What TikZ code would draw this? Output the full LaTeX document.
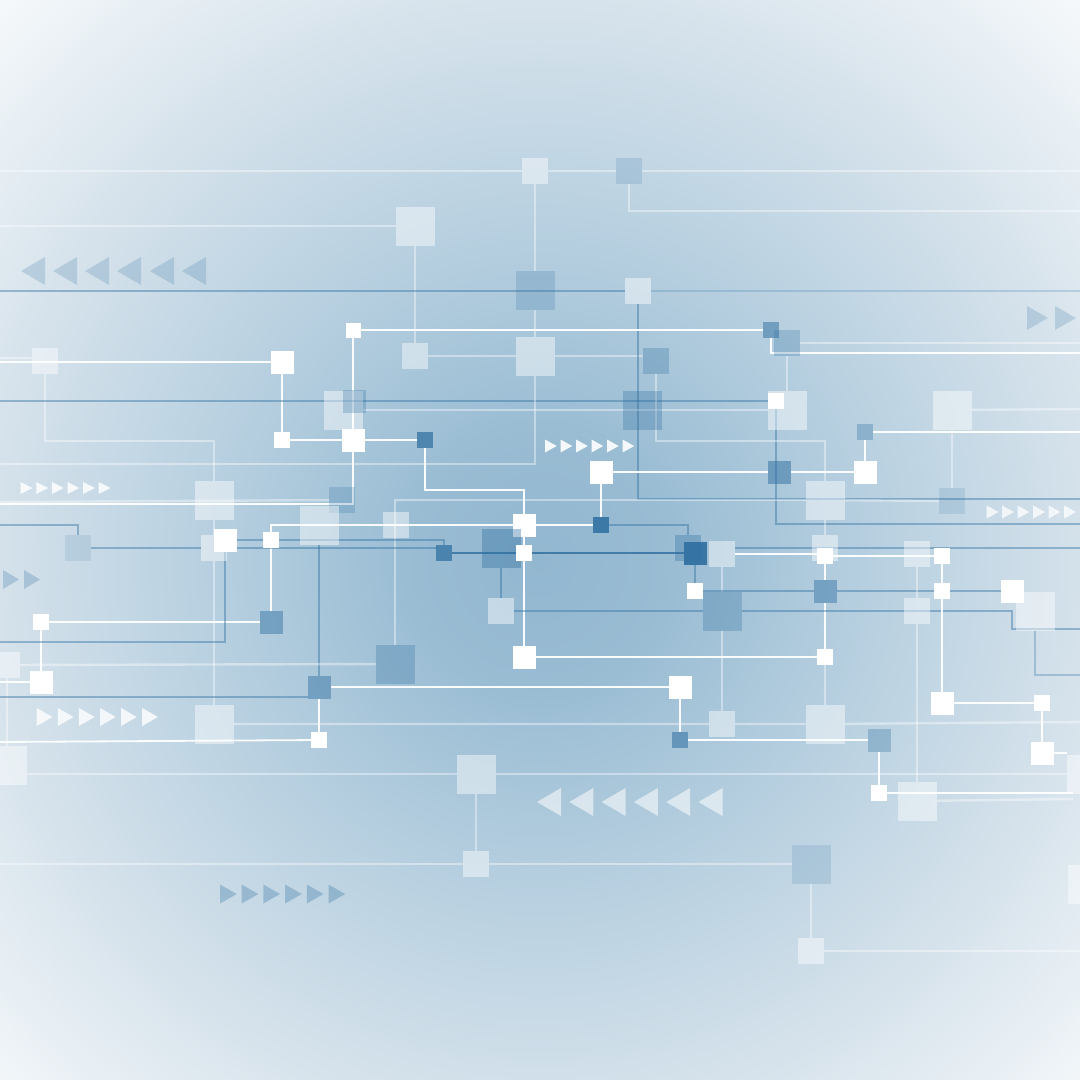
\documentclass[tikz,border=0pt]{standalone}
\usetikzlibrary{calc}
\definecolor{bcol}{RGB}{45,110,160}
\pgfdeclareradialshading{bgshade}{\pgfpoint{0bp}{0bp}}{rgb(0bp)=(0.573,0.718,0.816); rgb(4bp)=(0.600,0.737,0.827); rgb(9bp)=(0.690,0.796,0.867); rgb(17.5bp)=(0.835,0.886,0.922); rgb(25bp)=(0.965,0.976,0.984); rgb(50bp)=(0.965,0.976,0.984)}
\pgfdeclarelayer{bg}
\pgfdeclarelayer{lines}
\pgfsetlayers{bg,lines,main}
\begin{document}
\begin{tikzpicture}[x=1pt,y=-1pt,
  sq/.style={minimum size=#1pt, inner sep=0pt, outer sep=0pt, draw=none},
  ws/.style={sq=#1, fill=white},
  ls/.style={sq=#1, fill=white, fill opacity=.45},
  bs/.style 2 args={sq=#1, fill=bcol, fill opacity=#2},
  wl/.style={draw=white, line width=1.8pt, opacity=.95},
  fl/.style={draw=white, line width=2.4pt, opacity=.4},
  bl/.style={draw=bcol, line width=1.5pt, opacity=.42},
  bdl/.style={draw=bcol, line width=1.8pt, opacity=.8},
  wtri/.style={fill=white, opacity=#1},
  btri/.style={fill=bcol, opacity=#1}]
\useasboundingbox (0,0) rectangle (1080,1080);
\begin{pgfonlayer}{bg}
\begin{scope}
\clip (0,0) rectangle (1080,1080);
\shade[shading=bgshade] (-240,-220) rectangle (1320,1340);
\end{scope}
\end{pgfonlayer}

% ---------- squares ----------
\node[ls=26] (A1) at (535,171) {};
\node[bs={26}{.16}] (A2) at (629,171) {};
\node[ls=39] (A3) at (415,226) {};
\node[bs={39}{.2}] (A4) at (535,290) {};
\node[ls=26] (A5) at (638,291) {};
\node[ws=15] (A6) at (353,330) {};
\node[bs={16}{.5}] (A7) at (771,330) {};
\node[bs={26}{.25}] (A8) at (787,343) {};
\node[ls=26] (A9) at (45,361) {};
\node[ws=23] (A10) at (282,362) {};
\node[ls=26] (A11) at (415,356) {};
\node[ls=39] (A12) at (535,356) {};
\node[bs={26}{.28}] (A13) at (656,361) {};
\node[ls=39] (A14) at (343,410) {};
\node[bs={23}{.28}] (A15) at (354,401) {};
\node[bs={39}{.3}] (A16) at (642,410) {};
\node[ls=39] (A17) at (787,410) {};
\node[ws=16] (A18) at (776,401) {};
\node[ls=39] (A19) at (952,410) {};
\node[bs={16}{.32}] (A20) at (865,432) {};
\node[ws=16] (A21) at (282,440) {};
\node[ws=23] (A22) at (353,440) {};
\node[bs={16}{.7}] (A23) at (425,440) {};
\node[ws=23] (A24) at (601,472) {};
\node[bs={23}{.5}] (A25) at (779,472) {};
\node[ws=23] (A26) at (865,472) {};
\node[ls=39] (A27) at (214,500) {};
\node[bs={26}{.22}] (A28) at (342,500) {};
\node[ls=39] (A29) at (825,500) {};
\node[bs={26}{.14}] (A30) at (952,501) {};
\node[ls=39] (A31) at (319,525) {};
\node[ls=26] (A32) at (396,525) {};
\node[ws=23] (A33) at (524,525) {};
\node[bs={16}{.85}] (A34) at (601,525) {};
\node[bs={26}{.12}] (A35) at (78,548) {};
\node[ls=26] (A36) at (214,548) {};
\node[ws=23] (A37) at (225,540) {};
\node[ws=16] (A38) at (271,540) {};
\node[bs={16}{.72}] (A39) at (444,553) {};
\node[bs={39}{.38}] (A40) at (501,548) {};
\node[ws=16] (A41) at (524,553) {};
\node[bs={26}{.32}] (A42) at (688,548) {};
\node[bs={23}{.9}] (A43) at (695,553) {};
\node[ls=26] (A44) at (722,554) {};
\node[ls=26] (A45) at (825,548) {};
\node[ws=16] (A46) at (825,556) {};
\node[ls=26] (A47) at (917,554) {};
\node[ws=16] (A48) at (942,556) {};
\node[ls=26] (A49) at (501,611) {};
\node[bs={39}{.28}] (A50) at (722,611) {};
\node[bs={23}{.45}] (A51) at (825,591) {};
\node[ws=16] (A52) at (695,591) {};
\node[ws=16] (A53) at (942,591) {};
\node[ws=23] (A54) at (1012,591) {};
\node[ls=39] (A55) at (1035,611) {};
\node[ls=26] (A56) at (917,611) {};
\node[ws=16] (A57) at (41,622) {};
\node[bs={23}{.45}] (A58) at (271,622) {};
\node[ws=23] (A59) at (524,657) {};
\node[ws=16] (A60) at (825,657) {};
\node[ls=26] (A61) at (7,665) {};
\node[bs={39}{.28}] (A62) at (395,664) {};
\node[ws=23] (A63) at (41,682) {};
\node[bs={23}{.45}] (A64) at (319,687) {};
\node[ws=23] (A65) at (680,687) {};
\node[ws=23] (A66) at (942,703) {};
\node[ws=16] (A67) at (1042,703) {};
\node[ls=39] (A68) at (214,724) {};
\node[ls=26] (A69) at (722,724) {};
\node[ls=39] (A70) at (825,724) {};
\node[ws=16] (A71) at (319,740) {};
\node[bs={16}{.55}] (A72) at (680,740) {};
\node[bs={23}{.3}] (A73) at (879,740) {};
\node[ws=23] (A74) at (1042,753) {};
\node[ls=39] (A75) at (7,765) {};
\node[ls=39] (A76) at (476,774) {};
\node[ls=39] (A77) at (1086,774) {};
\node[ws=16] (A78) at (879,793) {};
\node[ls=39] (A79) at (917,801) {};
\node[ls=26] (A80) at (476,864) {};
\node[bs={39}{.15}] (A81) at (811,864) {};
\node[ls=26] (A82) at (811,951) {};
\node[ls=39] (A83) at (1087,884) {};

% ---------- free ends ----------
\coordinate (L171) at (0,171);   \coordinate (R171) at (1080,171);
\coordinate (R211) at (1080,211); \coordinate (L226) at (0,226);
\coordinate (L291) at (0,291);   \coordinate (R291) at (1080,291);
\coordinate (R499) at (1080,499); \coordinate (R353) at (1080,353);
\coordinate (R343) at (1080,343); \coordinate (L362) at (0,362);
\coordinate (L358) at (0,358);   \coordinate (K441) at (214,441);
\coordinate (L504) at (0,504);   \coordinate (L502) at (0,502);
\coordinate (L401) at (0,401);   \coordinate (L464) at (0,464);
\coordinate (R524) at (1080,524); \coordinate (K825) at (825,441);
\coordinate (R432) at (1080,432); \coordinate (R409) at (1080,409);
\coordinate (K490) at (524,490); \coordinate (L525) at (0,525);
\coordinate (L642) at (0,642);   \coordinate (K548a) at (237,548);
\coordinate (K548b) at (437,548); \coordinate (R548) at (1080,548);
\coordinate (K1012) at (1012,611); \coordinate (R629) at (1080,629);
\coordinate (R675) at (1080,675); \coordinate (L682) at (0,682);
\coordinate (L742) at (0,742);   \coordinate (L697) at (0,697);
\coordinate (R722) at (1080,722); \coordinate (R793) at (1073,793);
\coordinate (R799) at (1073,799); \coordinate (L866) at (0,864);
\coordinate (R951) at (1080,951);

% ---------- connectors ----------
\begin{pgfonlayer}{lines}
\draw[fl] (L171) -- (A1) -- (A2) -- (R171);
\draw[fl] (A2) |- (R211);
\draw[fl] (L226) -- (A3);
\draw[fl] (A3) -- (A11);
\draw[fl] (A1) -- (A4);
\draw[fl] (A4) -- (A12);
\draw[fl] (A11) -- (A12);
\draw[fl] (A12) -- (A12 -| A13.west);
\draw[bl] (L291) -- (A5);
\draw[bl, opacity=.22] (A5) -- (R291);
\draw[bl] (A5) |- (R499);
\draw[wl] (A6) -- (A7);
\draw[wl] (A7) |- (R353);
\draw[fl] (A8) -- (R343);
\draw[fl] (A8) -- (A17);
\draw[wl] (L362) -- (A10);
\draw[fl] (L358) -- (A9.west |- L358);
\draw[fl] (A9) |- (K441) -- (A27);
\draw[fl] (A27) -- (A36) -- (A68);
\draw[wl] (A10) -- (A21);
\draw[wl] (A21) -- (A22);
\draw[wl] (A6) -- (A22);
\draw[wl] (A22) |- (L504);
\draw[fl] (L502) -- (A28);
\draw[bl] (L401) -- (A18);
\draw[fl] (A14) -- (A17);
\draw[fl] (L464) -| (A12);
\draw[bl] (A18) |- (R524);
\draw[fl] (A13) |- (K825) -- (A29);
\draw[fl] (A29) -- (A45);
\draw[wl] (A46) -- (A51) -- (A60);
\draw[fl] (A60) -- (A70);
\draw[wl] (A24) -- (A25) -- (A26);
\draw[wl] (A20) -- (R432);
\draw[wl] (A20) -- (A26);
\draw[fl] (A19) -- (R409);
\draw[fl] (A19) -- (A30);
\draw[wl] (A22) -- (A23);
\draw[wl] (A23) |- (K490) -- (A33);
\draw[wl] (A33) -- (A41) -- (A59);
\draw[fl] (A62) |- (A29);
\draw[fl] (A29) -- (A30);
\draw[wl] (A58) |- (A33);
\draw[wl] (A33) -- (A34);
\draw[wl] (A34) -- (A24);
\draw[bl] (A34) -| (A42);
\draw[wl] (A58) -- (A57);
\draw[wl] (A57) -- (A63);
\draw[wl] (L682) -- (A63);
\draw[bl] (L525) -| (A35);
\draw[bl] (A35) -- (A36);
\draw[bl] (A37) |- (L642);
\draw[bl] (A37) -| (A39);
\draw[bl] (K548a) -- (K548b);
\draw[bdl] (A39) -- (A43);
\draw[bl] (A40) -- (A49);
\draw[bl] (A49) -- (A50);
\draw[bl] (A50) -- (K1012) |- (R629);
\draw[fl] (A44) -- (A50) -- (A69);
\draw[wl] (A44) -- (A44 -| A46.west);
\draw[bl] (A44.east |- R548) -- (R548);
\draw[wl] (A46) -- (A48);
\draw[bl] (A43) -- (A52);
\draw[bl] (A52) -- (A51) -- (A53) -- (A54);
\draw[fl] (A47) -- (A56) -- (A79);
\draw[wl] (A48) -- (A53) -- (A66);
\draw[wl] (A66) -- (A67);
\draw[wl] (A67) -- (A74);
\draw[wl] (A74) -- (A74 -| A77.west);
\draw[bl, opacity=.3] (A55) |- (R675);
\draw[wl] (A59) -- (A60);
\draw[wl] (A64) -- (A65);
\draw[wl] (A65) -- (A72);
\draw[wl] (A64) -- (A71);
\draw[bl] (A31) -- (A64);
\draw[wl] (L742) -- (A71);
\draw[fl] (A61) -- (A62);
\draw[fl] (A61) -- (A75);
\draw[bl] (L697) -- (A64.west |- L697);
\draw[fl] (A68) -- (A69) -- (A70) -- (R722);
\draw[wl] (A72) -- (A73);
\draw[wl] (A73) -- (A78);
\draw[wl] (A78) -- (R793);
\draw[fl] (A79) -- (R799);
\draw[fl] (A75.east |- A76) -- (A76) -- (A77);
\draw[fl] (A76) -- (A80);
\draw[fl] (L866) -- (A80) -- (A81);
\draw[fl] (A81) -- (A82);
\draw[fl] (A82) -- (R951);
\end{pgfonlayer}

% ---------- arrow rows ----------
\foreach \t in {21,53,85,117,150,182}
  \fill[btri=.2] (\t,271) -- ++(24,-14) -- ++(0,28) -- cycle;
\foreach \t in {1027,1055}
  \fill[btri=.2] (\t,306) -- ++(21,12) -- ++(-21,12) -- cycle;
\foreach \i in {0,...,5}
  \fill[wtri=.85] ({20.7+15.6*\i},482) -- ++(11.7,6) -- ++(-11.7,6) -- cycle;
\foreach \i in {0,...,5}
  \fill[wtri=.9] ({545+15.5*\i},439.5) -- ++(11.7,6.5) -- ++(-11.7,6.5) -- cycle;
\foreach \i in {0,...,5}
  \fill[wtri=.75] ({986.7+15.5*\i},505.5) -- ++(11.7,6.5) -- ++(-11.7,6.5) -- cycle;
\foreach \i in {0,1}
  \fill[btri=.25] ({3+21*\i},570) -- ++(16,9.5) -- ++(-16,9.5) -- cycle;
\foreach \i in {0,...,5}
  \fill[wtri=.8] ({36.7+21.1*\i},708) -- ++(15.7,9) -- ++(-15.7,9) -- cycle;
\foreach \i in {0,...,5}
  \fill[btri=.3] ({220+21.7*\i},884.5) -- ++(16.7,9.5) -- ++(-16.7,9.5) -- cycle;
\foreach \i in {0,...,5}
  \fill[wtri=.55] ({537+32.3*\i},802) -- ++(24,-14) -- ++(0,28) -- cycle;
\end{tikzpicture}
\end{document}
